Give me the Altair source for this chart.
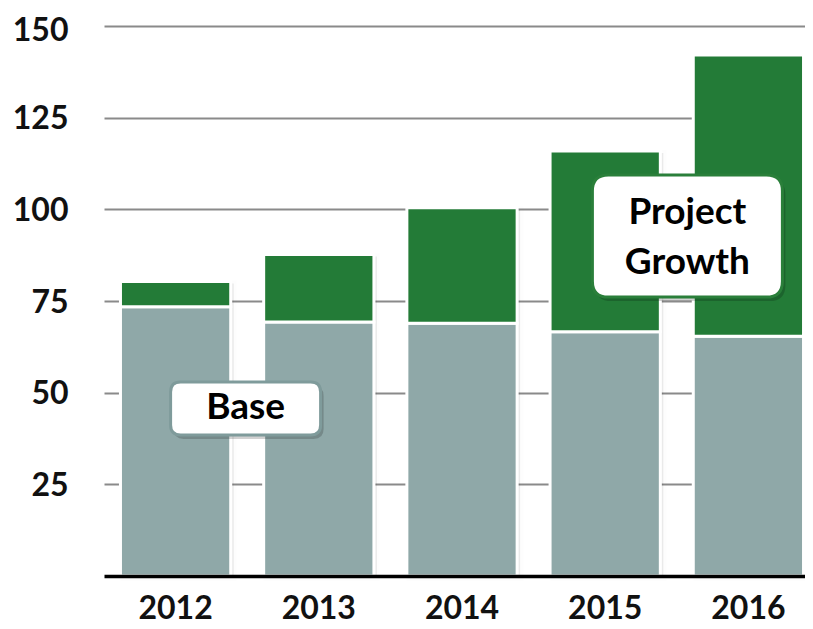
import altair as alt
import pandas as pd

years = ["2012", "2013", "2014", "2015", "2016"]
base = [73.4, 69.3, 68.9, 66.6, 65.4]
growth = [6.9, 18.4, 31.5, 49.3, 76.7]
y_ticks = [25, 50, 75, 100, 125, 150]

GREEN = "#237B37"
GRAY = "#8FA8A8"
FONT = "Lato"

rows = []
for y, b, g in zip(years, base, growth):
    rows.append({"year": y, "series": "Base", "value": b, "order": 0})
    rows.append({"year": y, "series": "Project Growth", "value": g, "order": 1})
df = pd.DataFrame(rows)
tot = pd.DataFrame({"year": years, "value": [b + g for b, g in zip(base, growth)]})

x_scale = alt.Scale(domain=years, range=[0, 716], paddingInner=0.23, paddingOuter=0.115)
y_scale = alt.Scale(domain=[0, 150], nice=False, zero=True)

x_axis = alt.Axis(title=None, labelAngle=0, ticks=False, domain=True, grid=False,
                  domainColor="#000000", domainWidth=3.5, zindex=2,
                  labelFont=FONT, labelFontWeight="bold", labelFontSize=32,
                  labelColor="#111111", labelPadding=17, labelBaseline="top")
y_axis = alt.Axis(title=None, values=y_ticks, ticks=False, domain=False,
                  grid=True, gridColor="#8a8a8a", gridWidth=2, zindex=0,
                  labelFont=FONT, labelFontWeight="bold", labelFontSize=32,
                  labelColor="#111111", labelPadding=36,
                  labelBaseline="alphabetic",
                  labelOffset={"condition": {"test": "datum.value == 150", "value": 14},
                               "value": 11})

x_enc = alt.X("year:N", scale=x_scale, sort=years, axis=x_axis)
y_enc = alt.Y("value:Q", scale=y_scale, axis=y_axis)

shadow = alt.Chart(tot).mark_bar(color="#000000", opacity=0.08, xOffset=3, yOffset=2,
                                 strokeWidth=6, stroke="#000000", strokeOpacity=0.05).encode(
    x=x_enc,
    y=y_enc,
)

bars = alt.Chart(df).mark_bar(stroke="white", strokeWidth=3).encode(
    x=x_enc,
    y=alt.Y("value:Q", stack="zero", scale=y_scale, axis=y_axis),
    color=alt.Color("series:N", scale=alt.Scale(domain=["Base", "Project Growth"],
                                                range=[GRAY, GREEN]), legend=None),
    order=alt.Order("order:Q"),
)

ann_base = pd.DataFrame({"year": ["2012"], "value": [45.7], "label": ["Base"]})
ann_growth = pd.DataFrame({"year": ["2016"], "value": [92.7], "label": ["Project\nGrowth"]})


def rounded(hy, r):
    a = 1 - r
    b = hy - r
    return (f"M {-a} {-hy} L {a} {-hy} Q 1 {-hy} 1 {-b} L 1 {b} Q 1 {hy} {a} {hy} "
            f"L {-a} {hy} Q -1 {hy} -1 {b} L -1 {-b} Q -1 {-hy} {-a} {-hy} Z")


base_path = rounded(0.353, 0.133)
growth_path = rounded(0.642, 0.168)


def box(data, path, size, dx, border, text_dy):
    sh = alt.Chart(data).mark_point(shape=path, size=size, filled=True, fill="#000000",
                                    opacity=0.18, xOffset=dx + 3, yOffset=4).encode(
        x=x_enc, y=y_enc)
    bx = alt.Chart(data).mark_point(shape=path, size=size, filled=True, fill="white",
                                    opacity=1, stroke=border, strokeWidth=3,
                                    xOffset=dx).encode(
        x=x_enc, y=y_enc)
    tx = alt.Chart(data).mark_text(font=FONT, fontWeight="bold", fontSize=37,
                                   color="#000000", xOffset=dx, dy=text_dy, lineBreak="\n",
                                   lineHeight=50, baseline="middle").encode(
        x=x_enc, y=y_enc, text="label:N")
    return [sh, bx, tx]


layers = [shadow, bars] + box(ann_base, base_path, 150 ** 2, 70, "#7f9b9b", 0) \
    + box(ann_growth, growth_path, 190 ** 2, -61, "#2a7f3a", -23)

chart = alt.layer(*layers).properties(
    width=701, height=550,
    background="white",
    autosize=alt.AutoSizeParams(type="none"),
    padding={"left": 96, "top": 18, "right": 0, "bottom": 50},
).configure_view(strokeWidth=0, stroke="transparent")

chart.save("out.html", embed_options={"renderer": "svg", "actions": False})
